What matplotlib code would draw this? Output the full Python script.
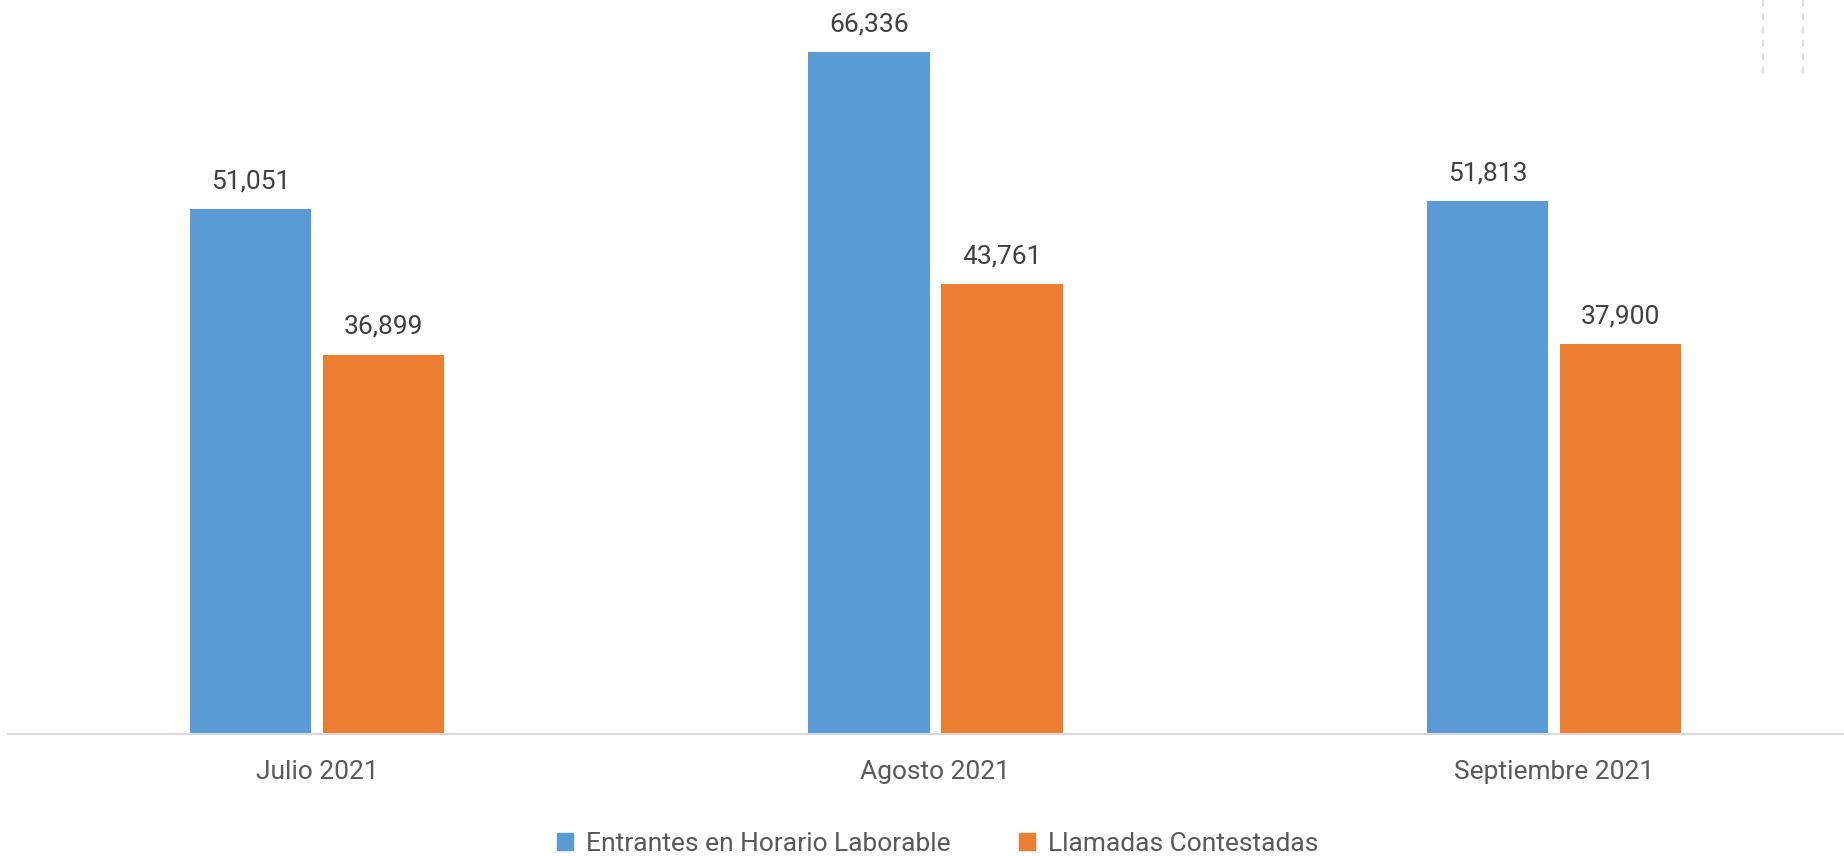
import numpy as np
import matplotlib.pyplot as plt
from matplotlib.patches import Patch
from matplotlib.lines import Line2D

months = ['Julio 2021', 'Agosto 2021', 'Septiembre 2021']
entrantes = [51051, 66336, 51813]
contestadas = [36899, 43761, 37900]
series_names = ['Entrantes en Horario Laborable', 'Llamadas Contestadas']

blue = '#5B9BD5'
orange = '#ED7D31'

plt.rcParams['font.family'] = ['Roboto', 'DejaVu Sans']
plt.rcParams['font.size'] = 19.0

W, H = 1844, 856
fig = plt.figure(figsize=(W / 100, H / 100), dpi=100)
ax = fig.add_axes([8 / W, 1 - 734 / H, 1855 / W, 734 / H])

x = np.arange(len(months))
width = 0.196
offset = 0.1075
b1 = ax.bar(x - offset, entrantes, width, color=blue)
b2 = ax.bar(x + offset, contestadas, width, color=orange)

for bars in (b1, b2):
    for rect in bars:
        h = rect.get_height()
        ax.annotate(f'{h:,.0f}', (rect.get_x() + rect.get_width() / 2, h),
                    xytext=(0, 11.5), textcoords='offset points',
                    ha='center', va='bottom', color='#404040', fontsize=19)

ax.set_xlim(-0.5, len(months) - 0.5)
ax.set_ylim(0, 71400)
ax.set_xticks(x)
ax.set_xticklabels(months, color='#595959')
ax.tick_params(axis='x', length=0, pad=19)
ax.set_yticks([])
for s in ['top', 'right', 'left']:
    ax.spines[s].set_visible(False)
ax.spines['bottom'].set_color('#d9d9d9')
ax.spines['bottom'].set_linewidth(1.5)

handles = [Patch(color=blue), Patch(color=orange)]
fig.legend(handles, series_names, loc='center', bbox_to_anchor=(938 / W, 1 - 844 / H),
           ncol=2, frameon=False, handlelength=0.6, handleheight=0.6,
           handletextpad=0.5, columnspacing=2.6, labelcolor='#595959', fontsize=19)

# faint dashed guides in the upper right corner
for xp in (1763, 1803):
    fig.add_artist(Line2D([xp / W, xp / W], [1, 1 - 77 / H], transform=fig.transFigure,
                          color='#d9d9d9', lw=1.2, ls=(0, (4, 4))))

plt.savefig('out.png', dpi=100)
